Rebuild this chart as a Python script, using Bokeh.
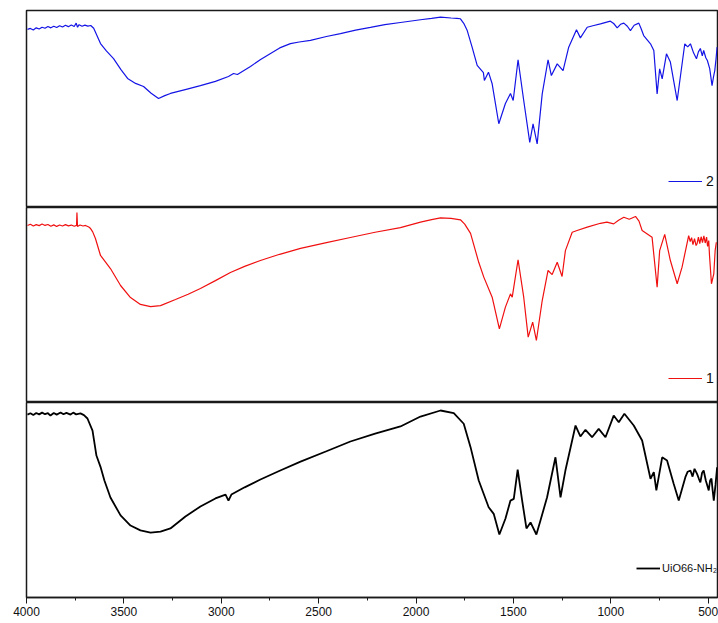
from bokeh.plotting import figure
from bokeh.layouts import column
from bokeh.models import Range1d, LinearAxis, SingleIntervalTicker, Legend, LegendItem
from bokeh.embed import file_html
from bokeh.resources import INLINE

# FTIR spectra: wavenumber (cm-1) and transmittance (%), one curve per sample
wn_2 = [3995, 3980, 3965, 3950, 3935, 3920, 3905, 3890, 3875, 3860, 3845, 3830, 3815, 3800,
        3785, 3770, 3755, 3745, 3738, 3730, 3715, 3700, 3685, 3670, 3655, 3620, 3590, 3553,
        3515, 3481, 3440, 3399, 3360, 3322, 3290, 3261, 3180, 3107, 3030, 2963, 2937, 2917,
        2850, 2800, 2747, 2700, 2645, 2600, 2542, 2460, 2388, 2310, 2234, 2160, 2080, 1977,
        1920, 1874, 1820, 1790, 1772, 1755, 1737, 1712, 1686, 1654, 1649, 1628, 1609, 1575,
        1541, 1515, 1501, 1476, 1447, 1416, 1399, 1378, 1352, 1322, 1305, 1275, 1245, 1216,
        1176, 1156, 1121, 1087, 1053, 1002, 985, 967, 950, 933, 915, 899, 880, 856, 845, 831,
        796, 779, 762, 749, 736, 714, 694, 659, 620, 605, 591, 575, 560, 550, 540, 530, 523,
        512, 504, 492, 480, 473, 466, 460, 454]
t_2 = [90.4, 90.9, 90.1, 91.2, 90.6, 91.5, 91.0, 91.9, 91.2, 92.0, 91.4, 92.3, 91.6, 92.5,
       91.8, 92.6, 91.9, 93.6, 91.5, 92.8, 92.0, 92.6, 92.1, 92.4, 91.0, 83.2, 79.5, 75.6,
       70.0, 65.5, 63.0, 61.4, 58.0, 55.3, 56.8, 57.9, 60.0, 61.9, 64.0, 66.5, 68.0, 67.5,
       71.6, 75.0, 78.2, 81.0, 83.2, 84.0, 84.8, 86.8, 88.3, 90.0, 91.4, 92.8, 93.9, 95.3,
       96.0, 96.6, 96.2, 96.0, 95.8, 93.5, 89.8, 81.4, 72.1, 68.5, 64.5, 68.7, 62.8, 42.5,
       52.8, 57.9, 54.3, 75.0, 54.3, 33.1, 42.5, 32.3, 57.7, 75.0, 67.0, 72.9, 69.5, 81.4,
       90.2, 86.1, 91.5, 92.4, 93.2, 94.6, 93.4, 91.2, 93.0, 93.6, 92.0, 89.8, 92.5, 93.6,
       91.0, 87.3, 83.1, 79.7, 57.7, 70.4, 65.3, 78.0, 73.8, 54.3, 83.1, 81.5, 83.1, 78.5,
       75.5, 79.0, 80.7, 77.0, 79.7, 76.0, 74.6, 70.5, 61.9, 66.0, 69.5, 75.0, 81.4]

wn_1 = [3995, 3980, 3965, 3950, 3935, 3920, 3905, 3890, 3875, 3860, 3845, 3830, 3815, 3800,
        3785, 3770, 3755, 3743, 3741, 3738, 3725, 3710, 3697, 3680, 3671, 3660, 3646, 3620,
        3569, 3517, 3466, 3415, 3363, 3312, 3235, 3170, 3107, 3030, 2953, 2880, 2799, 2700,
        2593, 2460, 2337, 2210, 2080, 1977, 1920, 1874, 1820, 1772, 1750, 1720, 1678, 1652,
        1609, 1572, 1541, 1515, 1506, 1476, 1447, 1424, 1401, 1382, 1352, 1322, 1301, 1275,
        1250, 1233, 1198, 1173, 1121, 1053, 1020, 985, 960, 933, 905, 873, 855, 839, 788,
        762, 749, 723, 694, 659, 634, 600, 592, 585, 578, 570, 562, 557, 550, 543, 536, 529,
        522, 515, 508, 503, 497, 493, 483, 471, 464, 458]
t_1 = [90.8, 91.4, 90.5, 91.2, 90.7, 91.5, 90.8, 91.3, 90.4, 91.1, 90.3, 91.0, 90.5, 91.2,
       90.6, 91.0, 90.4, 90.8, 97.4, 90.3, 91.0, 90.5, 90.8, 90.0, 89.2, 87.5, 84.1, 75.4,
       68.7, 60.0, 53.8, 50.3, 49.2, 49.7, 52.8, 55.5, 58.5, 62.5, 66.7, 69.8, 72.8, 76.0,
       79.0, 82.0, 84.6, 87.3, 89.7, 92.5, 93.8, 94.7, 94.4, 93.7, 91.5, 86.7, 71.9, 64.3,
       54.0, 37.8, 48.9, 55.7, 54.0, 73.2, 54.0, 33.5, 41.2, 31.8, 52.3, 67.7, 65.6, 71.9,
       64.6, 77.9, 87.3, 88.2, 89.9, 91.9, 92.5, 91.6, 93.5, 95.0, 94.0, 95.4, 93.0, 88.2,
       84.8, 59.1, 77.9, 86.2, 72.8, 60.9, 69.4, 85.6, 82.5, 84.5, 81.0, 84.0, 80.5, 81.4,
       84.8, 81.5, 85.0, 82.0, 85.5, 81.8, 84.8, 80.0, 83.0, 75.4, 60.9, 66.0, 78.0, 82.2]

wn_0 = [3995, 3980, 3965, 3950, 3935, 3920, 3905, 3890, 3877, 3860, 3845, 3825, 3810, 3795,
        3774, 3760, 3745, 3723, 3705, 3687, 3661, 3641, 3620, 3600, 3569, 3517, 3466, 3415,
        3363, 3312, 3261, 3184, 3107, 3030, 2978, 2963, 2948, 2880, 2799, 2700, 2593, 2460,
        2337, 2210, 2080, 1977, 1874, 1806, 1755, 1720, 1678, 1627, 1601, 1572, 1541, 1515,
        1498, 1478, 1455, 1433, 1412, 1382, 1361, 1327, 1284, 1258, 1233, 1181, 1156, 1130,
        1096, 1062, 1027, 985, 959, 930, 882, 839, 796, 779, 766, 736, 711, 677, 651, 617,
        605, 591, 580, 570, 557, 548, 540, 531, 523, 512, 497, 490, 483, 477, 471, 462, 454]
t_0 = [93.8, 94.5, 93.6, 94.6, 93.9, 94.8, 94.0, 94.5, 93.3, 94.6, 93.8, 94.9, 94.0, 94.7,
       93.8, 94.8, 93.9, 94.4, 93.5, 91.8, 85.6, 72.8, 67.0, 60.0, 51.3, 42.1, 36.9, 34.4,
       33.3, 33.8, 35.4, 41.5, 46.7, 50.8, 52.8, 49.7, 52.8, 56.5, 60.5, 65.0, 69.7, 75.0,
       80.0, 84.0, 87.7, 92.8, 95.9, 94.5, 89.1, 77.1, 60.0, 46.3, 42.9, 32.3, 40.4, 49.7,
       50.6, 65.6, 49.7, 35.4, 38.5, 32.3, 39.5, 51.4, 71.9, 51.4, 65.1, 88.2, 82.6, 86.0,
       82.2, 86.5, 82.2, 93.3, 89.9, 94.2, 88.2, 80.5, 60.9, 64.3, 54.9, 71.9, 70.3, 58.3,
       49.7, 61.7, 64.5, 65.1, 62.0, 66.0, 63.4, 61.0, 59.0, 64.0, 65.1, 60.0, 54.9, 60.0,
       61.0, 55.0, 49.7, 58.0, 66.8]

labels = ["2", "1", "UiO66-NH\u2082"]
colors = ["#1414e6", "#f01010", "#000000"]
FONT = "Liberation Sans"


def panel(wn, t, label, color, lw, fh, top, bottom, glyph_w, leg_xy, label_size, standoff):
    p = figure(frame_width=691, frame_height=fh, output_backend="svg", toolbar_location=None,
               x_axis_location=None, y_axis_location=None,
               x_range=Range1d(4000, 452), y_range=Range1d(0, 100),
               min_border_left=26, min_border_right=1, min_border_top=top,
               min_border_bottom=bottom)
    p.grid.visible = False
    p.outline_line_color = "#1a1a1a"
    p.outline_line_width = 1.5
    p.background_fill_color = "white"
    p.border_fill_color = "white"
    r = p.line(wn, t, line_color=color, line_width=lw)
    leg = Legend(items=[LegendItem(label=label, renderers=[r])], location=leg_xy,
                 border_line_color=None, background_fill_alpha=0, padding=0, margin=0,
                 spacing=0, glyph_width=glyph_w, glyph_height=16, label_height=16,
                 label_standoff=standoff, label_text_font=FONT,
                 label_text_font_size=label_size, label_text_color="#111111")
    p.add_layout(leg)
    return p


p_top = panel(wn_2, t_2, labels[0], colors[0], 1.2, 197, 10, 0, 34, (642, 18), "14px", 4)
p_mid = panel(wn_1, t_1, labels[1], colors[1], 1.2, 195, 0, 0, 34, (642, 16), "14px", 4)
p_bot = panel(wn_0, t_0, labels[2], colors[2], 1.8, 195, 0, 26, 24, (610, 21), "11px", 2)

xaxis = LinearAxis(ticker=SingleIntervalTicker(interval=500, num_minor_ticks=2))
xaxis.axis_line_color = "#1a1a1a"
xaxis.axis_line_width = 1.5
xaxis.major_tick_in = 0
xaxis.major_tick_out = 6
xaxis.minor_tick_in = 0
xaxis.minor_tick_out = 3
xaxis.major_tick_line_color = "#1a1a1a"
xaxis.minor_tick_line_color = "#1a1a1a"
xaxis.major_label_standoff = 3
xaxis.major_label_text_font = FONT
xaxis.major_label_text_font_size = "12px"
xaxis.major_label_text_color = "#111111"
p_bot.add_layout(xaxis, "below")

layout = column(p_top, p_mid, p_bot, spacing=0)
open("out.html", "w").write(file_html(layout, INLINE))
